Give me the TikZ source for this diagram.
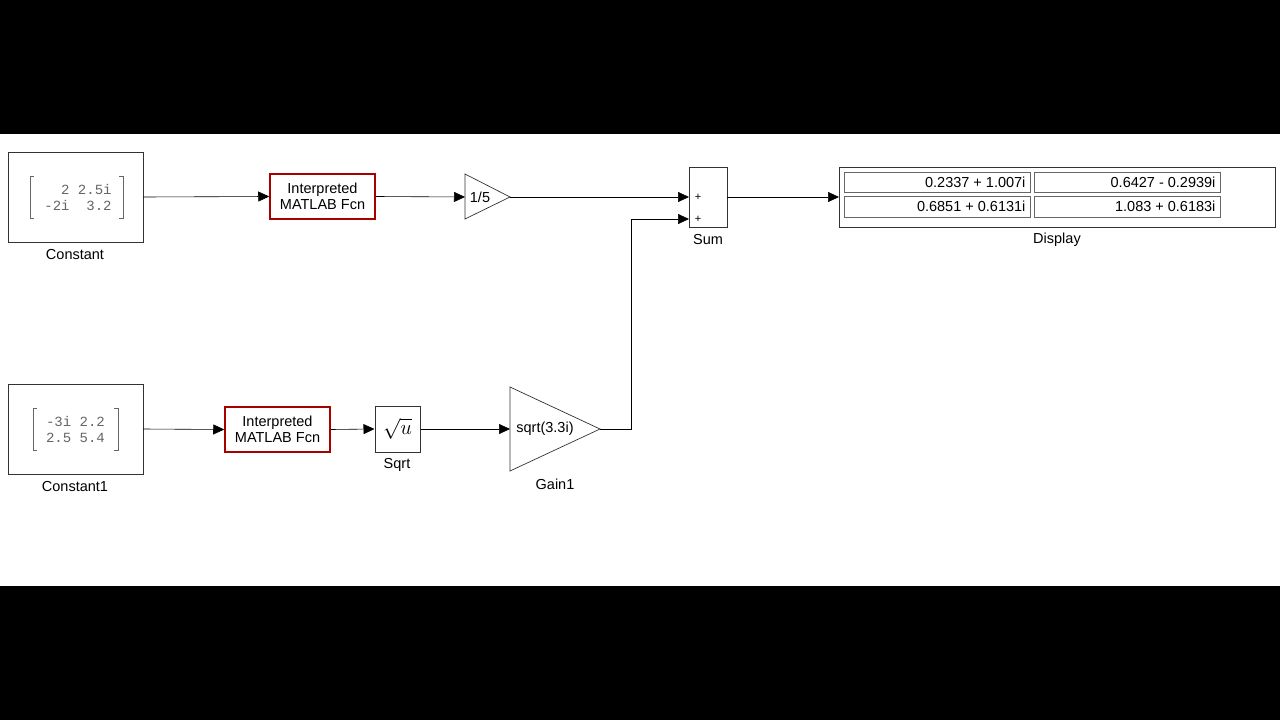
\documentclass[tikz,border=0pt]{standalone}
\usepackage{fontspec}
\setmainfont{Liberation Sans}
\newfontfamily\mono{Liberation Mono}
\usetikzlibrary{arrows.meta}
\begin{document}
\begin{tikzpicture}[x=1pt,y=-1pt,
  blk/.style={draw=black!80,line width=1pt,fill=white},
  fcn/.style={draw=red!65!black,line width=1.5pt,fill=white},
  cell/.style={draw=black!60,line width=0.6pt},
  lbl/.style={font=\fontsize{14.5}{16}\selectfont},
  txt/.style={font=\fontsize{14.5}{15.5}\selectfont,align=center},
  sig/.style={line width=0.6pt,-{Triangle[length=11pt,width=10pt]}},
  mat/.style={font=\mono\fontsize{14}{16}\selectfont,text=black!60,align=right}]
\useasboundingbox (0,0) rectangle (1280,720);
\fill[black] (0,0) rectangle (1280,134);
\fill[black] (0,586) rectangle (1280,720);
% top row
\draw[blk] (8,152) rectangle (143,242);
\node[mat] at (78,197) {\ \ 2 2.5i\\-2i\ \ 3.2};
\draw[black!60,line width=0.7pt] (34,176)--(30,176)--(30,218)--(34,218) (119,176)--(123,176)--(123,218)--(119,218);
\node[lbl] at (75,255) {Constant};
\node[fcn,minimum width=105pt,minimum height=45pt,txt] (f1) at (322.5,196.5) {Interpreted\\MATLAB Fcn};
\draw[blk,line width=0.7pt] (465,174)--(510,197)--(465,219)--cycle;
\coordinate (g1in) at (465,197); \coordinate (g1out) at (510,197);
\node[lbl] at (480,197) {1/5};
\draw[blk] (689,167) rectangle (727,227);
\coordinate (s1) at (689,197); \coordinate (s2) at (689,219); \coordinate (sout) at (727,197);
\node[font=\fontsize{11}{12}\selectfont] at (698,197) {+};
\node[font=\fontsize{11}{12}\selectfont] at (698,219) {+};
\node[lbl] at (708,240) {Sum};
\draw[blk] (839,167) rectangle (1275,227);
\coordinate (din) at (839,197);
\draw[cell] (844,172) rectangle (1030,192) (1034,172) rectangle (1220,192) (844,196) rectangle (1030,217) (1034,196) rectangle (1220,217);
\node[lbl,anchor=east] at (1029,182) {0.2337 + 1.007i};
\node[lbl,anchor=east] at (1219,182) {0.6427 - 0.2939i};
\node[lbl,anchor=east] at (1029,206.5) {0.6851 + 0.6131i};
\node[lbl,anchor=east] at (1219,206.5) {1.083 + 0.6183i};
\node[lbl] at (1057,240) {Display};
\draw[sig] (143,197) -- (f1.west);
\draw[sig] (f1.east) -- (g1in);
\draw[sig] (g1out) -- (s1);
\draw[sig] (sout) -- (din);
% bottom row
\draw[blk] (8,384) rectangle (143,474);
\node[mat] at (75.5,429) {-3i 2.2\\2.5 5.4};
\draw[black!60,line width=0.7pt] (37,408)--(33,408)--(33,450)--(37,450) (114,408)--(118,408)--(118,450)--(114,450);
\node[lbl] at (75,487) {Constant1};
\node[fcn,minimum width=105pt,minimum height=45pt,txt] (f2) at (277.5,429.5) {Interpreted\\MATLAB Fcn};
\node[blk,minimum width=45pt,minimum height=46pt,inner sep=0pt] (sq) at (397.5,429) {\fontsize{20}{22}\selectfont$\sqrt{u}$};
\node[lbl] at (397,465) {Sqrt};
\draw[blk,line width=0.7pt] (510,387)--(600,429)--(510,471)--cycle;
\coordinate (g2in) at (510,429); \coordinate (g2out) at (600,429);
\node[lbl] at (545,429) {sqrt(3.3i)};
\node[lbl] at (555,484) {Gain1};
\draw[sig] (143,429) -- (f2.west);
\draw[sig] (f2.east) -- (sq.west);
\draw[sig] (sq.east) -- (g2in);
\draw[sig] (g2out) -- (631,429) -- (631,219) -- (s2);
\end{tikzpicture}
\end{document}
